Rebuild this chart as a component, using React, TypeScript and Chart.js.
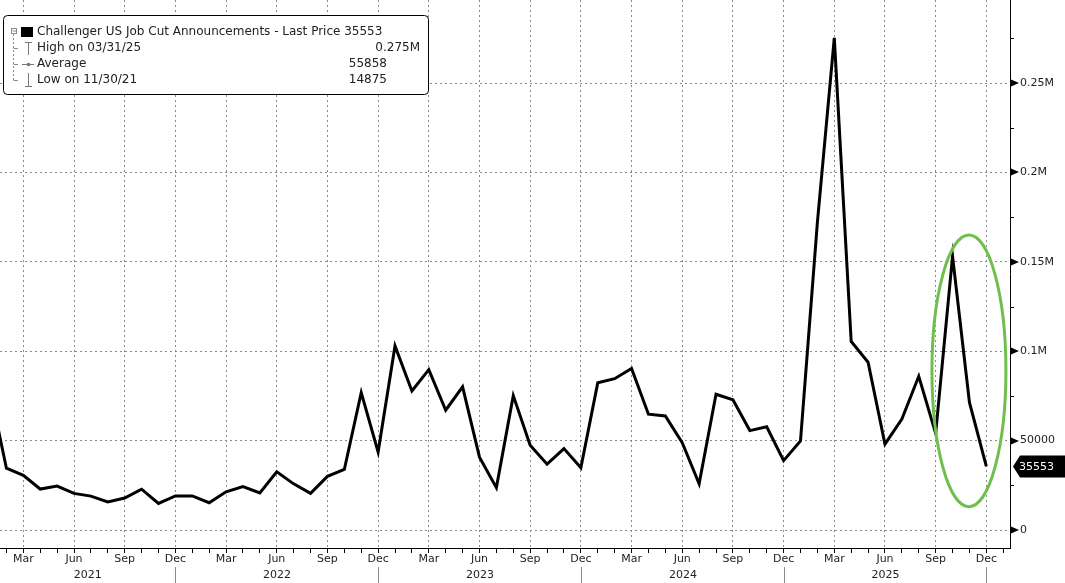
import React, { useEffect, useRef } from 'react';
import { Chart, registerables } from 'chart.js';

Chart.register(...registerables);

// ---------- data ----------
const MONTH_NAMES = ['Jan', 'Feb', 'Mar', 'Apr', 'May', 'Jun', 'Jul', 'Aug', 'Sep', 'Oct', 'Nov', 'Dec'];
const YEARS = [2021, 2022, 2023, 2024, 2025];

// Monthly job cut announcements, Jan 2021 .. Dec 2025
const JOB_CUTS = [
  79552, 34531, 30603, 22913, 24586, 20476, 18942, 15723, 17895, 22822, 14875, 19052,
  19064, 15245, 21387, 24286, 20712, 32517, 25810, 20485, 29989, 33843, 76835, 43651,
  102943, 77770, 89703, 66995, 80089, 40709, 23697, 75151, 47457, 36836, 45510, 34817,
  82307, 84638, 90309, 64789, 63816, 48786, 25885, 75891, 72821, 55597, 57727, 38792,
  49795, 172017, 275240, 105441, 93816, 47999, 62075, 85979, 54064, 153074, 71321, 35553,
];

const Y_MAJOR_TICKS = [0, 50000, 100000, 150000, 200000, 250000];
const Y_MAJOR_LABELS = ['0', '50000', '0.1M', '0.15M', '0.2M', '0.25M'];
const Y_MINOR_TICKS = [25000, 75000, 125000, 175000, 225000, 275000];

const LEGEND_TITLE = 'Challenger US Job Cut Announcements - Last Price 35553';
const LEGEND_LABELS = ['High on 03/31/25', 'Average', 'Low on 11/30/21'];
const LEGEND_VALUES = ['0.275M', '55858', '14875'];
const LAST_PRICE = 35553;
const LAST_PRICE_LABEL = '35553';

// highlight ellipse (data units: month index / value)
const HIGHLIGHT = { month: 57.97, value: 89000, halfMonths: 2.19, halfValue: 76000 };

// ---------- styling ----------
const FONT = 'DejaVu Sans';
const TEXT = '#222222';
const GRID = '#8a8a8a';
const X_MIN = 0.62;
const X_MAX = 60.4;
const Y_MIN = -10067;
const Y_MAX = 296421;

const isQuarter = (v: number) => Math.round(v) % 3 === 2;

const decorPlugin = {
  id: 'decor',
  afterDatasetsDraw(chart: any) {
    const { ctx, scales } = chart;
    const x = scales.x;
    const y = scales.y;
    const cx = x.getPixelForValue(HIGHLIGHT.month);
    const cy = y.getPixelForValue(HIGHLIGHT.value);
    const rx = Math.abs(x.getPixelForValue(HIGHLIGHT.month + HIGHLIGHT.halfMonths) - cx);
    const ry = Math.abs(y.getPixelForValue(HIGHLIGHT.value + HIGHLIGHT.halfValue) - cy);
    ctx.save();
    ctx.strokeStyle = '#6fbf4f';
    ctx.lineWidth = 3;
    ctx.beginPath();
    ctx.ellipse(cx, cy, rx, ry, 0, 0, Math.PI * 2);
    ctx.stroke();
    ctx.restore();
  },
  afterDraw(chart: any) {
    const { ctx, scales, chartArea, width, height } = chart;
    const x = scales.x;
    const y = scales.y;
    const axisX = chartArea.right;
    ctx.save();

    // y-axis tick markers
    ctx.fillStyle = '#000';
    ctx.strokeStyle = '#000';
    ctx.lineWidth = 1;
    Y_MAJOR_TICKS.forEach((v) => {
      const py = Math.round(y.getPixelForValue(v));
      ctx.beginPath();
      ctx.moveTo(axisX + 1, py - 3.5);
      ctx.lineTo(axisX + 9, py);
      ctx.lineTo(axisX + 1, py + 3.5);
      ctx.closePath();
      ctx.fill();
    });
    Y_MINOR_TICKS.forEach((v) => {
      const py = Math.round(y.getPixelForValue(v)) + 0.5;
      ctx.beginPath();
      ctx.moveTo(axisX, py);
      ctx.lineTo(axisX + 4, py);
      ctx.stroke();
    });

    // year separators and labels
    ctx.font = `11px "${FONT}"`;
    ctx.fillStyle = TEXT;
    ctx.textAlign = 'center';
    ctx.textBaseline = 'middle';
    let prev = chartArea.left;
    YEARS.forEach((yr, k) => {
      const sep = Math.round(x.getPixelForValue(k * 12 + 11)) + 0.5;
      ctx.strokeStyle = '#8c8c8c';
      ctx.beginPath();
      ctx.moveTo(sep, chartArea.bottom + 19);
      ctx.lineTo(sep, height);
      ctx.stroke();
      ctx.fillText(String(yr), (prev + sep) / 2, chartArea.bottom + 27);
      prev = sep;
    });

    // last price tag
    const ly = y.getPixelForValue(LAST_PRICE);
    ctx.fillStyle = '#000';
    ctx.beginPath();
    ctx.moveTo(axisX + 3, ly);
    ctx.lineTo(axisX + 10, ly - 11);
    ctx.lineTo(width, ly - 11);
    ctx.lineTo(width, ly + 11);
    ctx.lineTo(axisX + 10, ly + 11);
    ctx.closePath();
    ctx.fill();
    ctx.fillStyle = '#fff';
    ctx.textAlign = 'left';
    ctx.fillText(LAST_PRICE_LABEL, axisX + 9, ly + 0.5);

    // legend box
    const bx = 3.5, by = 15.5, bw = 425, bh = 79, r = 4;
    ctx.beginPath();
    ctx.moveTo(bx + r, by);
    ctx.lineTo(bx + bw - r, by);
    ctx.arcTo(bx + bw, by, bx + bw, by + r, r);
    ctx.lineTo(bx + bw, by + bh - r);
    ctx.arcTo(bx + bw, by + bh, bx + bw - r, by + bh, r);
    ctx.lineTo(bx + r, by + bh);
    ctx.arcTo(bx, by + bh, bx, by + bh - r, r);
    ctx.lineTo(bx, by + r);
    ctx.arcTo(bx, by, bx + r, by, r);
    ctx.closePath();
    ctx.fillStyle = '#fff';
    ctx.fill();
    ctx.strokeStyle = '#000';
    ctx.lineWidth = 1;
    ctx.stroke();

    const rows = [32, 48, 64, 80];
    // tree
    ctx.strokeStyle = '#8a8a8a';
    ctx.strokeRect(11.5, 28.5, 5, 5);
    ctx.beginPath();
    ctx.moveTo(12.5, 31);
    ctx.lineTo(16, 31);
    ctx.stroke();
    ctx.setLineDash([2, 2]);
    ctx.beginPath();
    ctx.moveTo(13.5, 34);
    ctx.lineTo(13.5, rows[3]);
    ctx.stroke();
    ctx.setLineDash([]);
    [rows[1], rows[2], rows[3]].forEach((ry) => {
      ctx.beginPath();
      ctx.moveTo(13.5, ry + 0.5);
      ctx.lineTo(18, ry + 0.5);
      ctx.stroke();
    });
    // series swatch
    ctx.fillStyle = '#000';
    ctx.fillRect(21, 27, 12, 10);
    // high icon
    ctx.strokeStyle = '#777';
    ctx.beginPath();
    ctx.moveTo(25, 42.5);
    ctx.lineTo(32, 42.5);
    ctx.moveTo(28.5, 42.5);
    ctx.lineTo(28.5, 55);
    ctx.stroke();
    // average icon
    ctx.beginPath();
    ctx.moveTo(22, 64.5);
    ctx.lineTo(34, 64.5);
    ctx.stroke();
    ctx.fillStyle = '#777';
    ctx.beginPath();
    ctx.arc(28.5, 64.5, 1.8, 0, Math.PI * 2);
    ctx.fill();
    // low icon
    ctx.beginPath();
    ctx.moveTo(28.5, 73);
    ctx.lineTo(28.5, 86.5);
    ctx.moveTo(25, 86.5);
    ctx.lineTo(32, 86.5);
    ctx.stroke();

    // legend text
    ctx.fillStyle = TEXT;
    ctx.font = `12px "${FONT}"`;
    ctx.textAlign = 'left';
    ctx.textBaseline = 'middle';
    ctx.fillText(LEGEND_TITLE, 37, rows[0]);
    LEGEND_LABELS.forEach((lbl, i) => ctx.fillText(lbl, 37, rows[i + 1]));
    ctx.textAlign = 'right';
    LEGEND_VALUES.forEach((val, i) => ctx.fillText(val, i === 0 ? 420 : 387, rows[i + 1]));

    ctx.restore();
  },
};

export default function App() {
  const canvasRef = useRef<HTMLCanvasElement | null>(null);

  useEffect(() => {
    document.body.style.margin = '0';
    const canvas = canvasRef.current;
    if (!canvas) return;
    Chart.defaults.font.family = FONT;

    const chart = new Chart(canvas, {
      type: 'line',
      data: {
        datasets: [
          {
            label: 'Challenger US Job Cut Announcements',
            data: JOB_CUTS.map((v, i) => ({ x: i, y: v })),
            borderColor: '#000',
            borderWidth: 3,
            pointRadius: 0,
            tension: 0,
            fill: false,
            borderJoinStyle: 'miter',
          },
        ],
      },
      options: {
        responsive: false,
        devicePixelRatio: 1,
        animation: false,
        layout: { padding: 0 },
        plugins: { legend: { display: false }, tooltip: { enabled: false } },
        scales: {
          x: {
            type: 'linear',
            min: X_MIN,
            max: X_MAX,
            afterBuildTicks: (axis: any) => {
              axis.ticks = Array.from({ length: 60 }, (_, k) => ({ value: k + 1 }));
            },
            afterFit: (s: any) => {
              s.height = 35;
              s.paddingLeft = 0;
              s.paddingRight = 0;
            },
            grid: {
              color: (c: any) => (c.tick && isQuarter(c.tick.value) ? GRID : 'rgba(0,0,0,0)'),
              lineWidth: 1,
              drawTicks: true,
              tickLength: 5,
              tickColor: '#000',
              tickWidth: 1,
              tickBorderDash: [],
            },
            border: { display: true, color: '#000', width: 1, dash: [2, 3] },
            ticks: {
              autoSkip: false,
              maxRotation: 0,
              minRotation: 0,
              padding: 0,
              color: TEXT,
              font: { family: FONT, size: 11 },
              callback: (v: any) => (isQuarter(Number(v)) ? MONTH_NAMES[Math.round(Number(v)) % 12] : ''),
            },
          },
          y: {
            type: 'linear',
            position: 'right',
            min: Y_MIN,
            max: Y_MAX,
            afterBuildTicks: (axis: any) => {
              axis.ticks = Y_MAJOR_TICKS.map((v) => ({ value: v }));
            },
            afterFit: (s: any) => {
              s.width = 55;
              s.paddingTop = 0;
              s.paddingBottom = 0;
            },
            grid: {
              color: GRID,
              lineWidth: 1,
              drawTicks: true,
              tickLength: 8,
              tickColor: 'rgba(0,0,0,0)',
            },
            border: { display: true, color: '#000', width: 1, dash: [2, 3] },
            ticks: {
              padding: 2,
              color: TEXT,
              font: { family: FONT, size: 11 },
              callback: (v: any) => {
                const i = Y_MAJOR_TICKS.indexOf(Number(v));
                return i >= 0 ? Y_MAJOR_LABELS[i] : '';
              },
            },
          },
        },
      },
      plugins: [decorPlugin],
    } as any);

    return () => chart.destroy();
  }, []);

  return (
    <div style={{ width: 1065, height: 583, background: '#fff' }}>
      <canvas ref={canvasRef} width={1065} height={583} style={{ display: 'block' }} />
    </div>
  );
}
